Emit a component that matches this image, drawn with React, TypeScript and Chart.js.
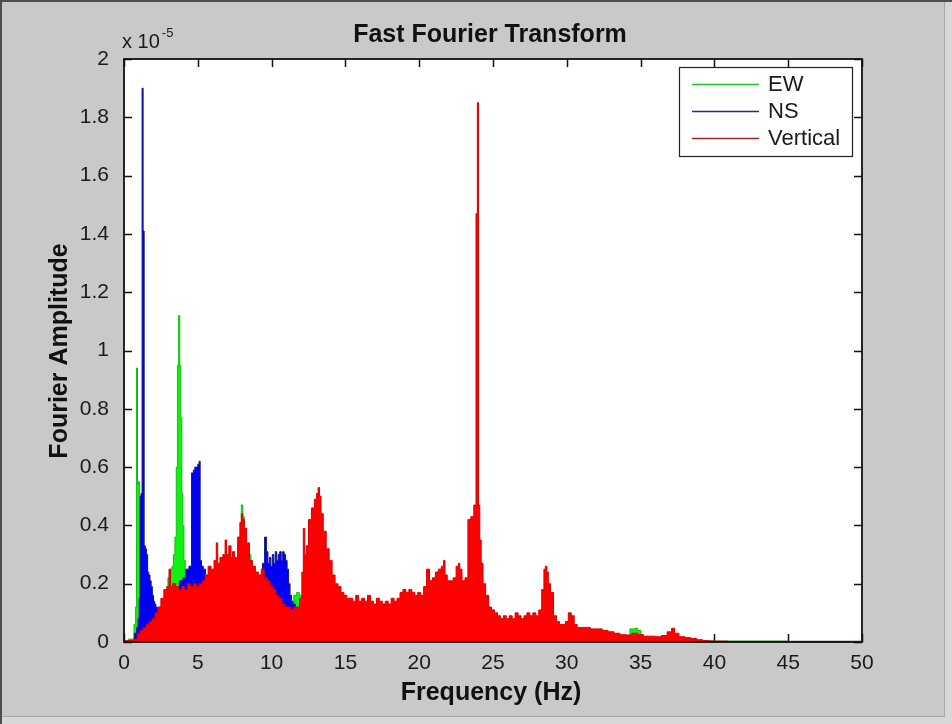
import React, { useEffect, useRef } from 'react';
import { Chart, registerables } from 'chart.js';

Chart.register(...registerables);

const FONT = '"Liberation Sans", Arial, Helvetica, sans-serif';

// Titles and labels
const chartTitle = 'Fast Fourier Transform';
const xAxisTitle = 'Frequency (Hz)';
const yAxisTitle = 'Fourier Amplitude';
const yExponentBase = 'x 10';
const yExponent = '-5';
const seriesNames = ['EW', 'NS', 'Vertical'];

// Axis ranges (amplitudes in units of 1e-5)
const xMin = 0;
const xMax = 50;
const xStep = 5;
const yMin = 0;
const yMax = 2;
const yStep = 0.2;

// EW component (Hz, amplitude x1e-5)
const ewFreq = [
  0, 0.6, 0.75, 0.82, 0.88, 0.95, 1.02, 1.09, 1.16, 1.4,
  1.8, 2.2, 2.6, 2.9, 3.05, 3.2, 3.3, 3.4, 3.5, 3.58,
  3.66, 3.74, 3.81, 3.88, 3.95, 4.02, 4.1, 4.2, 4.6, 5.5,
  6.5, 7.5, 7.9, 8.0, 8.1, 8.2, 9.0, 10.0, 11.0, 11.4,
  11.6, 11.8, 11.95, 12.1, 13.0, 20.0, 30.0, 34.0, 34.55, 34.7,
  34.85, 35.2, 40.0, 50.0,
];
const ewAmp = [
  0.003, 0.01, 0.06, 0.12, 0.94, 0.54, 0.55, 0.5, 0.3, 0.2,
  0.15, 0.1, 0.12, 0.18, 0.22, 0.25, 0.26, 0.3, 0.36, 0.6,
  0.95, 1.12, 0.95, 0.77, 0.51, 0.4, 0.28, 0.2, 0.15, 0.15,
  0.2, 0.25, 0.3, 0.47, 0.43, 0.3, 0.2, 0.15, 0.12, 0.13,
  0.16, 0.17, 0.16, 0.12, 0.05, 0.02, 0.01, 0.01, 0.045, 0.048,
  0.04, 0.01, 0.003, 0.002,
];

// NS component
const nsFreq = [
  0, 0.6, 0.8, 0.9, 1.0, 1.06, 1.12, 1.19, 1.26, 1.33,
  1.4, 1.48, 1.56, 1.64, 1.72, 1.8, 1.88, 1.96, 2.04, 2.12,
  2.2, 2.3, 2.5, 2.8, 3.2, 3.6, 3.9, 4.1, 4.3, 4.5,
  4.65, 4.75, 4.85, 4.95, 5.05, 5.12, 5.2, 5.3, 5.45, 5.6,
  6.0, 6.5, 7.0, 7.5, 8.0, 8.5, 9.0, 9.3, 9.45, 9.6,
  9.7, 9.8, 9.9, 10.0, 10.1, 10.2, 10.3, 10.4, 10.5, 10.6,
  10.7, 10.8, 10.9, 11.0, 11.1, 11.2, 11.3, 11.4, 11.5, 11.7,
  12.0, 13.0, 16.0, 20.0, 30.0, 50.0,
];
const nsAmp = [
  0.003, 0.005, 0.03, 0.05, 0.08, 0.15, 0.5, 0.51, 1.9, 1.41,
  0.33, 0.32, 0.3, 0.24, 0.23, 0.21, 0.19, 0.16, 0.14, 0.13,
  0.12, 0.11, 0.1, 0.12, 0.14, 0.16, 0.21, 0.22, 0.25, 0.26,
  0.58, 0.59, 0.6, 0.6, 0.61, 0.62, 0.28, 0.26, 0.25, 0.18,
  0.17, 0.2, 0.22, 0.2, 0.22, 0.2, 0.2, 0.22, 0.27, 0.36,
  0.31, 0.27, 0.29, 0.26, 0.3, 0.27, 0.31, 0.28, 0.3, 0.31,
  0.28, 0.31, 0.3, 0.28, 0.25, 0.2, 0.16, 0.14, 0.13, 0.11,
  0.06, 0.02, 0.01, 0.006, 0.003, 0.002,
];

// Vertical component
const vtFreq = [
  0, 0.5, 0.8, 1.0, 1.2, 1.4, 1.6, 1.8, 2.0, 2.2,
  2.4, 2.6, 2.8, 3.0, 3.1, 3.2, 3.4, 3.6, 3.8, 4.0,
  4.2, 4.4, 4.6, 4.8, 5.0, 5.2, 5.4, 5.6, 5.8, 6.0,
  6.2, 6.3, 6.4, 6.6, 6.8, 6.9, 7.0, 7.2, 7.3, 7.4,
  7.6, 7.8, 7.9, 8.0, 8.1, 8.2, 8.4, 8.6, 8.8, 9.0,
  9.2, 9.4, 9.6, 9.8, 10.0, 10.2, 10.4, 10.6, 10.8, 11.0,
  11.2, 11.4, 11.6, 11.8, 12.0, 12.1, 12.2, 12.3, 12.4, 12.6,
  12.8, 13.0, 13.1, 13.2, 13.3, 13.4, 13.6, 13.8, 14.0, 14.2,
  14.4, 14.6, 14.8, 15.0, 15.2, 15.4, 15.6, 15.8, 16.0, 16.2,
  16.4, 16.6, 16.8, 17.0, 17.2, 17.4, 17.6, 17.8, 18.0, 18.2,
  18.4, 18.6, 18.8, 19.0, 19.2, 19.4, 19.6, 19.8, 20.0, 20.2,
  20.4, 20.6, 20.8, 21.0, 21.2, 21.4, 21.6, 21.7, 21.8, 22.0,
  22.2, 22.4, 22.6, 22.7, 22.8, 23.0, 23.2, 23.4, 23.6, 23.8,
  23.9, 23.98, 24.06, 24.15, 24.25, 24.4, 24.6, 24.8, 25.0, 25.2,
  25.4, 25.6, 25.8, 26.0, 26.2, 26.4, 26.6, 26.8, 27.0, 27.2,
  27.4, 27.6, 27.8, 28.0, 28.2, 28.4, 28.5, 28.6, 28.7, 28.8,
  29.0, 29.2, 29.4, 29.6, 29.8, 30.0, 30.2, 30.4, 30.6, 30.8,
  31.0, 31.4, 31.8, 32.2, 32.6, 33.0, 33.4, 33.8, 34.2, 34.6,
  35.0, 35.4, 35.8, 36.2, 36.6, 37.0, 37.2, 37.4, 37.8, 38.2,
  38.6, 39.0, 39.4, 39.8, 42.0, 46.0, 50.0,
];
const vtAmp = [
  0.004, 0.005, 0.01, 0.03, 0.04, 0.05, 0.06, 0.07, 0.08, 0.1,
  0.12, 0.15, 0.18, 0.19, 0.25, 0.19, 0.2, 0.19, 0.18, 0.19,
  0.18, 0.2, 0.19, 0.2, 0.19, 0.2, 0.21, 0.23, 0.26, 0.25,
  0.28, 0.34, 0.27, 0.29, 0.3, 0.35, 0.3, 0.33, 0.29, 0.31,
  0.29, 0.36, 0.41, 0.44, 0.42, 0.39, 0.34, 0.28, 0.26, 0.24,
  0.23, 0.25, 0.22, 0.21, 0.19, 0.18, 0.16, 0.15, 0.13, 0.12,
  0.12, 0.11, 0.12, 0.12, 0.15, 0.24, 0.39, 0.3, 0.33, 0.42,
  0.46, 0.49, 0.51, 0.53, 0.5, 0.44, 0.38, 0.32, 0.28, 0.23,
  0.2, 0.19, 0.17, 0.16, 0.15, 0.15, 0.14, 0.16, 0.14, 0.15,
  0.14, 0.16, 0.14, 0.13, 0.15, 0.14, 0.13, 0.14, 0.13, 0.15,
  0.14, 0.15, 0.17, 0.18, 0.17, 0.18, 0.17, 0.16, 0.17, 0.16,
  0.19, 0.25, 0.21, 0.22, 0.24, 0.25, 0.26, 0.28, 0.23, 0.21,
  0.21, 0.22, 0.26, 0.27, 0.25, 0.21, 0.22, 0.42, 0.43, 0.47,
  1.47, 1.85, 0.47, 0.35, 0.27, 0.2, 0.16, 0.12, 0.11, 0.1,
  0.09, 0.08, 0.09, 0.08, 0.09, 0.08, 0.1, 0.09, 0.08, 0.09,
  0.1, 0.09, 0.1, 0.09, 0.11, 0.18, 0.25, 0.26, 0.24, 0.2,
  0.17, 0.09, 0.07, 0.06, 0.06, 0.07, 0.1, 0.09, 0.06, 0.05,
  0.05, 0.05, 0.045, 0.045, 0.04, 0.035, 0.03, 0.025, 0.024, 0.03,
  0.025, 0.02, 0.02, 0.018, 0.022, 0.035, 0.047, 0.03, 0.018, 0.015,
  0.012, 0.008, 0.005, 0.003, 0.002, 0.002, 0.002,
];

const CHART_LEFT = 124;
const CHART_TOP = 59;
const CHART_RIGHT = 862;
const CHART_BOTTOM = 642;
const W = 952;
const H = 724;

function toPoints(fs: number[], as: number[]) {
  return fs.map((f, i) => ({ x: f, y: as[i] }));
}

const matlabPlugin = {
  id: 'matlabFrame',
  beforeDraw(chart: any) {
    const { ctx, chartArea } = chart;
    ctx.save();
    ctx.fillStyle = '#c9c9c9';
    ctx.fillRect(0, 0, W, H);
    // window edges
    ctx.fillStyle = '#d8d8d8';
    ctx.fillRect(945, 0, W - 945, H);
    ctx.fillRect(0, 717, W, H - 717);
    ctx.fillStyle = '#a8a8a8';
    ctx.fillRect(944, 0, 1, 717);
    ctx.fillRect(0, 716, 945, 1);
    ctx.fillStyle = '#4d4d4d';
    ctx.fillRect(0, 0, W, 2);
    ctx.fillRect(0, 0, 2, H);
    // axes background
    ctx.fillStyle = '#ffffff';
    ctx.fillRect(chartArea.left, chartArea.top, chartArea.right - chartArea.left, chartArea.bottom - chartArea.top);
    ctx.restore();
  },
  beforeDatasetsDraw(chart: any) {
    const { ctx, chartArea, scales } = chart;
    const tl = 8;
    ctx.save();
    ctx.strokeStyle = '#111';
    ctx.lineWidth = 1.5;
    ctx.beginPath();
    scales.x.ticks.forEach((t: any) => {
      const px = Math.round(scales.x.getPixelForValue(t.value)) + 0.5;
      ctx.moveTo(px, chartArea.bottom);
      ctx.lineTo(px, chartArea.bottom - tl);
      ctx.moveTo(px, chartArea.top);
      ctx.lineTo(px, chartArea.top + tl);
    });
    scales.y.ticks.forEach((t: any) => {
      const py = Math.round(scales.y.getPixelForValue(t.value)) + 0.5;
      ctx.moveTo(chartArea.left, py);
      ctx.lineTo(chartArea.left + tl, py);
      ctx.moveTo(chartArea.right, py);
      ctx.lineTo(chartArea.right - tl, py);
    });
    ctx.stroke();
    ctx.restore();
  },
  afterDatasetsDraw(chart: any) {
    const { ctx, chartArea } = chart;
    ctx.save();
    // axes box
    ctx.strokeStyle = '#111';
    ctx.lineWidth = 1.8;
    ctx.strokeRect(chartArea.left, chartArea.top, chartArea.right - chartArea.left, chartArea.bottom - chartArea.top);

    // legend
    const lx = 679, ly = 67, lw = 173, lh = 89;
    ctx.fillStyle = '#ffffff';
    ctx.fillRect(lx, ly, lw, lh);
    ctx.strokeStyle = '#222';
    ctx.lineWidth = 1.2;
    ctx.strokeRect(lx + 0.5, ly + 0.5, lw, lh);
    const rows = [84, 111, 138];
    ctx.font = `22px ${FONT}`;
    ctx.textBaseline = 'middle';
    ctx.textAlign = 'left';
    chart.data.datasets.forEach((ds: any, i: number) => {
      const y = rows[i];
      ctx.strokeStyle = ds.legendColor;
      ctx.lineWidth = 1.5;
      ctx.beginPath();
      ctx.moveTo(692, y + 0.5);
      ctx.lineTo(759, y + 0.5);
      ctx.stroke();
      ctx.fillStyle = '#1a1a1a';
      ctx.fillText(ds.label, 768, y + 1);
    });

    // title
    ctx.fillStyle = '#111';
    ctx.font = `bold 25px ${FONT}`;
    ctx.textAlign = 'center';
    ctx.textBaseline = 'alphabetic';
    ctx.fillText(chartTitle, 490, 42);
    // x title
    ctx.fillText(xAxisTitle, 491, 700);
    // y title
    ctx.save();
    ctx.translate(67, 351);
    ctx.rotate(-Math.PI / 2);
    ctx.fillText(yAxisTitle, 0, 0);
    ctx.restore();
    // exponent
    ctx.textAlign = 'left';
    ctx.font = `20px ${FONT}`;
    ctx.fillStyle = '#1a1a1a';
    ctx.fillText(yExponentBase, 122, 48);
    const bw = ctx.measureText(yExponentBase).width;
    ctx.font = `13px ${FONT}`;
    ctx.fillText(yExponent, 122 + bw + 2, 37);
    ctx.restore();
  },
};

export default function App() {
  const canvasRef = useRef<HTMLCanvasElement | null>(null);

  useEffect(() => {
    const canvas = canvasRef.current;
    if (!canvas) return;
    const common = {
      fill: 'origin',
      stepped: 'middle',
      borderWidth: 1,
      pointRadius: 0,
      pointHoverRadius: 0,
      tension: 0,
    };
    const chart = new Chart(canvas, {
      type: 'line',
      data: {
        datasets: [
          {
            ...common,
            label: seriesNames[0],
            data: toPoints(ewFreq, ewAmp),
            borderColor: '#10c010',
            backgroundColor: '#12f012',
            legendColor: '#22c022',
            order: 3,
          },
          {
            ...common,
            label: seriesNames[1],
            data: toPoints(nsFreq, nsAmp),
            borderColor: '#14148c',
            backgroundColor: '#0000f2',
            legendColor: '#2a2a80',
            order: 2,
          },
          {
            ...common,
            label: seriesNames[2],
            data: toPoints(vtFreq, vtAmp),
            borderColor: '#d80000',
            backgroundColor: '#ff0000',
            legendColor: '#a02424',
            order: 1,
          },
        ] as any,
      },
      options: {
        animation: false,
        responsive: false,
        maintainAspectRatio: false,
        events: [],
        layout: {
          padding: { left: 0, top: CHART_TOP, right: W - CHART_RIGHT, bottom: 0 },
        },
        plugins: {
          legend: { display: false },
          title: { display: false },
          tooltip: { enabled: false },
        },
        scales: {
          x: {
            type: 'linear',
            min: xMin,
            max: xMax,
            grid: { display: false },
            border: { display: false },
            ticks: {
              stepSize: xStep,
              autoSkip: false,
              maxRotation: 0,
              color: '#1a1a1a',
              padding: 1,
              font: { family: FONT, size: 21 },
            },
            afterFit: (s: any) => {
              s.height = H - CHART_BOTTOM;
            },
          },
          y: {
            type: 'linear',
            min: yMin,
            max: yMax,
            grid: { display: false },
            border: { display: false },
            ticks: {
              stepSize: yStep,
              autoSkip: false,
              color: '#1a1a1a',
              padding: 7,
              font: { family: FONT, size: 21 },
              callback: (v: any) => String(Number(Number(v).toFixed(1))),
            },
            afterFit: (s: any) => {
              s.width = CHART_LEFT;
            },
          },
        },
      } as any,
      plugins: [matlabPlugin],
    });
    return () => chart.destroy();
  }, []);

  return (
    <div style={{ position: 'absolute', left: 0, top: 0, width: W, height: H }}>
      <canvas ref={canvasRef} width={W} height={H} style={{ display: 'block', width: W, height: H }} />
    </div>
  );
}
